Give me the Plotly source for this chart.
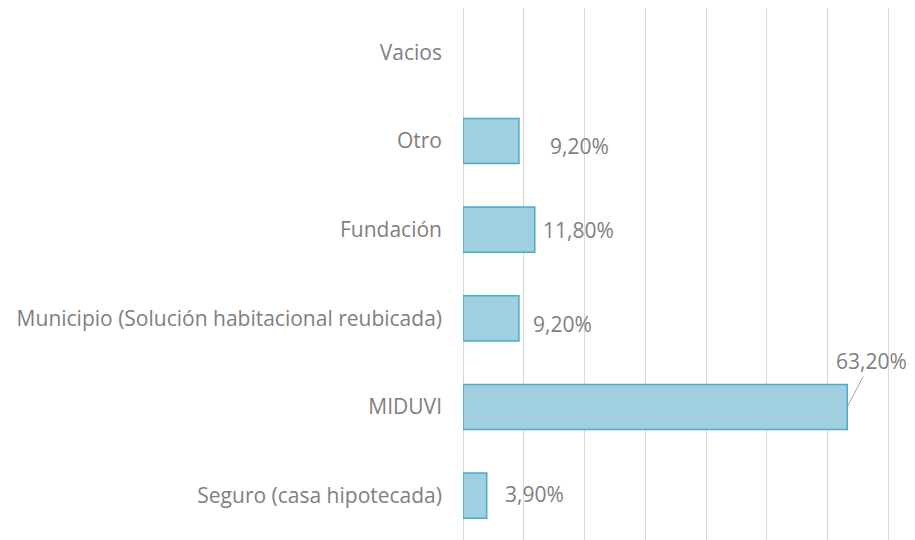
import plotly.graph_objects as go

categories = ["Seguro (casa hipotecada)", "MIDUVI",
              "Municipio (Solución habitacional reubicada)",
              "Fundación", "Otro", "Vacios"]
values = [3.9, 63.2, 9.2, 11.8, 9.2, None]
labels = ["3,90%", "63,20%", "9,20%", "11,80%", "9,20%", ""]
x_ticks = [0, 10, 20, 30, 40, 50, 60, 70]

# label placement (pixel offsets, Excel manual positions)
label_dx = [16, 0, 12, 6, 29, 0]
label_dy = [2, 0, -6, 0, -5, 0]

GRAY = "#7f7f7f"
FONT = "Open Sans"
FS = 21

fig = go.Figure()
fig.add_trace(go.Bar(
    y=categories, x=values, orientation="h",
    marker=dict(color="#a0cfdf", line=dict(color="#4aacc6", width=1.5)),
    hoverinfo="skip",
))

for cat, v, lab, dx, dy in zip(categories, values, labels, label_dx, label_dy):
    if v is None or lab == "":
        continue
    if cat == "MIDUVI":
        fig.add_annotation(x=v, y=cat, text=lab, showarrow=True,
                           arrowhead=0, arrowwidth=1, arrowcolor="#a6a6a6",
                           ax=24, ay=-46, xanchor="center", yanchor="middle",
                           font=dict(family=FONT, size=FS, color=GRAY))
    else:
        fig.add_annotation(x=v, y=cat, text=lab, showarrow=False,
                           xanchor="left", yanchor="middle",
                           xshift=dx, yshift=dy,
                           font=dict(family=FONT, size=FS, color=GRAY))

# page body has an 8px margin, so the figure is placed at (8, 8)
fig.update_layout(
    width=907, height=532,
    margin=dict(l=455, r=24, t=0, b=0, autoexpand=False),
    paper_bgcolor="white", plot_bgcolor="white",
    showlegend=False, bargap=0.49,
    font=dict(family=FONT, size=FS, color=GRAY),
)
fig.update_xaxes(range=[0, 70.4], tickvals=x_ticks, showticklabels=False,
                 showgrid=True, gridcolor="#d9d9d9", gridwidth=1.3,
                 zeroline=True, zerolinecolor="#d9d9d9", zerolinewidth=1.3,
                 showline=False, ticks="")
fig.update_yaxes(showgrid=False, zeroline=False, showline=False, ticks="",
                 ticklabelstandoff=20, automargin=False,
                 tickfont=dict(family=FONT, size=FS, color=GRAY))

fig.write_html("out.html")
